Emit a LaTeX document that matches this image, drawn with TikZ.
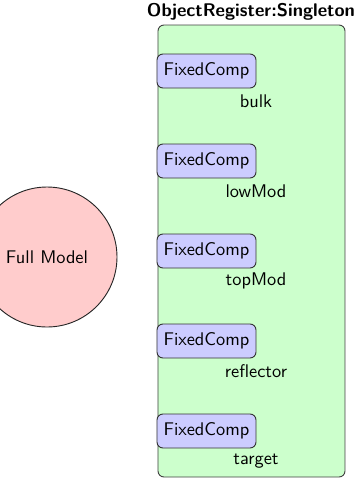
\documentclass[tikz,border=0pt]{standalone}
\renewcommand{\familydefault}{\sfdefault}
\definecolor{regfill}{HTML}{CCFFCC}
\definecolor{compfill}{HTML}{CCCCFF}
\definecolor{modelfill}{HTML}{FFCCCC}
\newcommand{\unitpx}{0.545pt}
\tikzset{
    register/.style={draw=black!75,fill=regfill,rounded corners=6*\unitpx,minimum width=187*\unitpx,minimum height=452*\unitpx,inner sep=0pt},
    comp/.style={draw=black!80,fill=compfill,rounded corners=6*\unitpx,minimum width=99*\unitpx,minimum height=34*\unitpx,inner sep=0pt},
    model/.style={circle,draw=black!85,fill=modelfill,minimum size=140*\unitpx,inner sep=0pt}
}
\begin{document}
\begin{tikzpicture}[x=\unitpx,y=-\unitpx,line width=0.5pt]
        \useasboundingbox (0,0) rectangle (353,478);
        \node[model] (fullmodel) at (47,257) {Full Model};
        \node[register] (objreg) at (251.5,251) {};
        \node[font=\bfseries] (objregtitle) at (251,12) {ObjectRegister:Singleton};
        \foreach \name/\ypos [count=\i] in {bulk/71,lowMod/161,topMod/251,reflector/341,target/431} {
            \node[comp] (fc\i) at (206.5,\ypos) {FixedComp};
            \node (fclabel\i) at (256,\ypos+30) {\name};
        }
    \end{tikzpicture}
\end{document}
